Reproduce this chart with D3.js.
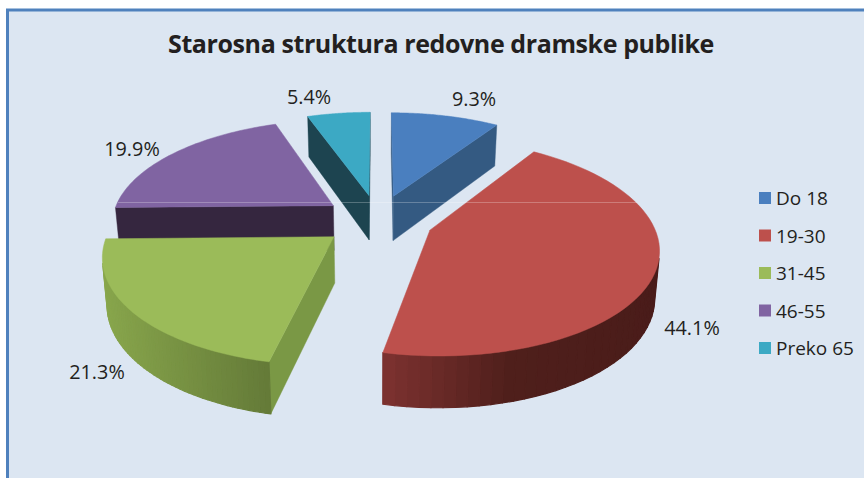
<!DOCTYPE html>
<html>
<head>
<meta charset="utf-8">
<script src="https://cdn.jsdelivr.net/npm/d3@7"></script>
<style>
html,body{margin:0;padding:0;background:#fff}
svg{display:block}
text{font-family:"Open Sans",sans-serif;fill:#231f20}
</style>
</head>
<body>
<svg id="chart" width="864" height="478"></svg>
<script>
const categories = ["Do 18", "19-30", "31-45", "46-55", "Preko 65"];
const shares = [9.3, 44.1, 21.3, 19.9, 5.4];
const shareLabels = ["9.3%", "44.1%", "21.3%", "19.9%", "5.4%"];
const topColors = ["#4a7fbf", "#bd504c", "#9bbb59", "#8064a2", "#3ca9c4"];
const cutColors = ["#345a82", "#6e2c2a", "#7a9845", "#35263f", "#1d4450"];
const rimLeftColors = ["#345a82", "#7d3230", "#88a64c", "#35263f", "#1d4450"];
const rimRightColors = ["#2c4c6e", "#4a1c1a", "#647a38", "#2b1f33", "#183a44"];
const labelAnchors = [[474, 99], [692, 328], [97, 372], [132, 149], [309, 97]];
const paintOrder = [4, 0, 3, 1, 2];

const width = 864, height = 478;
const svg = d3.select("#chart");

// Perspective camera for the tilted pie plane.
const cam = {cx: 378, cy: 220, sx: 222, sy: 103, persp: 0.154, explode: 0.25, depth: 45.5, taper: 0.983};
const project = (x, y) => {
  const w = 1 + cam.persp * y;
  return {x: cam.cx + cam.sx * x / w, y: cam.cy - cam.sy * y / w, w};
};
const drop = p => ({x: cam.cx + (p.x - cam.cx) * cam.taper, y: p.y + cam.depth / Math.pow(p.w, 0.7)});

const pie = d3.pie().sort(null).value(d => d)(shares);
const line = d3.line().x(d => d.x).y(d => d.y);

// Panel with a frame along its top and left edges only
svg.append("rect").attr("width", width).attr("height", height).attr("fill", "#fff");
svg.append("rect").attr("x", 7).attr("y", 9).attr("width", width - 7).attr("height", height - 9).attr("fill", "#dce6f2");
svg.append("path").attr("d", `M7.5,${height}V10H${width}`).attr("fill", "none")
  .attr("stroke", "#4f81bd").attr("stroke-width", 3);

svg.append("text").attr("x", 441).attr("y", 53).attr("text-anchor", "middle")
  .attr("font-size", 25).attr("font-weight", 700).attr("letter-spacing", -0.4)
  .text("Starosna struktura redovne dramske publike");

const slices = svg.append("g").attr("class", "slices");
paintOrder.forEach(i => {
  const d = pie[i];
  const mid = (d.startAngle + d.endAngle) / 2;
  const ax = cam.explode * Math.sin(mid), ay = cam.explode * Math.cos(mid);
  const steps = d3.range(0, 61).map(k => d.startAngle + (d.endAngle - d.startAngle) * k / 60);
  const apex = project(ax, ay);
  const rim = steps.map(a => project(ax + Math.sin(a), ay + Math.cos(a)));
  const g = slices.append("g").attr("class", "slice");

  // Side walls are kept only when they turn towards the viewer.
  const face = (a, b, fill) => {
    const pa = drop(a), pb = drop(b);
    const area = (b.x - a.x) * (pb.y - a.y) - (b.y - a.y) * (pb.x - a.x);
    return {area, pts: [a, b, pb, pa], fill};
  };
  const shade = d3.scaleLinear().domain(d3.extent(rim, p => p.x))
    .range([rimLeftColors[i], rimRightColors[i]]).clamp(true);
  const rimShade = i === 1
    ? d3.scaleLinear().domain([383, 510, 660]).range([rimLeftColors[i], "#4f1f1b", rimRightColors[i]]).clamp(true)
    : shade;

  const cutA = face(apex, rim[0], cutColors[i]);
  const cutB = face(rim[rim.length - 1], apex, cutColors[i]);
  [cutA, cutB].filter(f => f.area < 0).forEach(f => {
    g.append("path").attr("d", line(f.pts) + "Z").attr("fill", f.fill).attr("stroke", f.fill).attr("stroke-width", 0.4);
  });
  d3.pairs(rim).forEach(([p, q]) => {
    const f = face(p, q, rimShade((p.x + q.x) / 2));
    if (f.area < 0) {
      g.append("path").attr("d", line(f.pts) + "Z").attr("fill", f.fill).attr("stroke", f.fill)
        .attr("stroke-width", 1.2).attr("stroke-linejoin", "round");
    }
  });
  g.append("path").attr("d", line([apex, ...rim]) + "Z").attr("fill", topColors[i])
    .attr("stroke", topColors[i]).attr("stroke-width", 0.5);
});

// Thin pale seam running across the slices
svg.append("line").attr("x1", 118).attr("x2", 637).attr("y1", 202.5).attr("y2", 202.5)
  .attr("stroke", "#fff").attr("stroke-opacity", 0.25).attr("stroke-width", 1);

// Percentage labels
svg.append("g").selectAll("text").data(shareLabels).join("text")
  .attr("x", (d, i) => labelAnchors[i][0]).attr("y", (d, i) => labelAnchors[i][1] + 7)
  .attr("text-anchor", "middle").attr("font-size", 19.8).text(d => d);

// Legend
const legendY = d3.scalePoint().domain(categories).range([198, 348]);
const legend = svg.append("g").selectAll("g").data(categories).join("g")
  .attr("transform", d => `translate(759,${legendY(d)})`);
legend.append("rect").attr("y", -6).attr("width", 12).attr("height", 12)
  .attr("fill", (d, i) => topColors[i]);
legend.append("text").attr("x", 17).attr("y", 7).attr("font-size", 19).text(d => d);
</script>
</body>
</html>
